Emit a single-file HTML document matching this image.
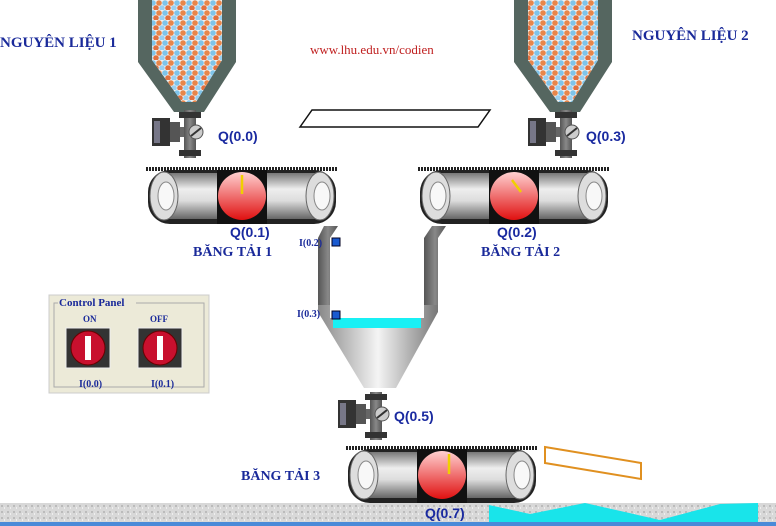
<!DOCTYPE html>
<html><head><meta charset="utf-8"><style>
html,body{margin:0;padding:0;background:#fff;}
svg{display:block}
text{font-family:"Liberation Sans",sans-serif;}
.ser{font-family:"Liberation Serif",serif;font-weight:bold;fill:#1a2a9a}
.url{font-family:"Liberation Serif",serif;fill:#c02020}
.q{font-family:"Liberation Sans",sans-serif;font-weight:bold;fill:#1a2aa0;font-size:14px}
</style></head><body>
<svg width="776" height="526" viewBox="0 0 776 526" xmlns="http://www.w3.org/2000/svg">
<defs>
<linearGradient id="cyl" x1="0" y1="0" x2="0" y2="1">
<stop offset="0" stop-color="#777"/><stop offset="0.35" stop-color="#eee"/><stop offset="0.6" stop-color="#ddd"/><stop offset="1" stop-color="#666"/></linearGradient>
<linearGradient id="red" x1="0" y1="0" x2="0" y2="1">
<stop offset="0" stop-color="#ffd0d0"/><stop offset="1" stop-color="#e01010"/></linearGradient>
<linearGradient id="fun" x1="0" y1="0" x2="1" y2="0">
<stop offset="0" stop-color="#888"/><stop offset="0.5" stop-color="#f4f4f4"/><stop offset="1" stop-color="#777"/></linearGradient>
<linearGradient id="pipe" x1="0" y1="0" x2="1" y2="0">
<stop offset="0" stop-color="#555"/><stop offset="0.5" stop-color="#888"/><stop offset="1" stop-color="#555"/></linearGradient>
<pattern id="balls" width="12" height="10" patternUnits="userSpaceOnUse">
<rect width="12" height="10" fill="#f0f0f0"/>
<circle cx="3" cy="3" r="2.8" fill="#e8864a"/><circle cx="9" cy="3" r="2.8" fill="#7fc4ea"/>
<circle cx="6" cy="8" r="2.8" fill="#9ad0f0"/><circle cx="0" cy="8" r="2.8" fill="#e07040"/><circle cx="12" cy="8" r="2.8" fill="#e07040"/></pattern>
<pattern id="grd" width="6" height="6" patternUnits="userSpaceOnUse">
<rect width="6" height="6" fill="#d8d8d8"/><rect x="1" y="1" width="2" height="2" fill="#bbb"/><rect x="4" y="3" width="1" height="2" fill="#eee"/></pattern>
<pattern id="teeth" width="3" height="3" patternUnits="userSpaceOnUse"><rect width="2" height="3" fill="#222"/></pattern>
<g id="conv">
<rect x="0" y="0" width="192" height="4" fill="url(#teeth)"/>
<rect x="2" y="3" width="188" height="54" rx="22" fill="#222"/>
<rect x="4" y="6" width="184" height="46" rx="20" fill="url(#cyl)"/>
<ellipse cx="18" cy="29" rx="14" ry="24" fill="#ddd" stroke="#666"/>
<ellipse cx="20" cy="29" rx="8" ry="14" fill="#f8f8f8" stroke="#888"/>
<ellipse cx="174" cy="29" rx="14" ry="24" fill="#ddd" stroke="#666"/>
<ellipse cx="176" cy="29" rx="8" ry="14" fill="#f8f8f8" stroke="#888"/>
<rect x="71" y="3" width="50" height="54" fill="#111"/>
<circle cx="96" cy="29" r="24" fill="url(#red)"/>
</g>
<g id="valve">
<rect x="0" y="8" width="18" height="28" fill="#333"/>
<rect x="2" y="11" width="6" height="22" fill="#778"/>
<rect x="18" y="12" width="10" height="20" fill="#555"/>
<rect x="28" y="17" width="14" height="10" fill="#666"/>
<rect x="32" y="0" width="12" height="48" fill="url(#pipe)"/>
<rect x="27" y="2" width="22" height="6" fill="#333"/>
<rect x="27" y="40" width="22" height="6" fill="#333"/>
<circle cx="44" cy="22" r="7" fill="#ccc" stroke="#555"/>
<line x1="39" y1="26" x2="49" y2="18" stroke="#333" stroke-width="2"/>
</g>
<g id="btn">
<rect x="0" y="0" width="44" height="40" fill="#333" stroke="#eee"/>
<circle cx="22" cy="20" r="17" fill="#c8102e" stroke="#600"/>
<rect x="19" y="8" width="6" height="24" fill="#fff"/>
</g>
</defs>

<rect x="0" y="503" width="776" height="21" fill="url(#grd)"/>
<path d="M489 524 L489 505 L530 514 L585 503 L660 520 L720 504 L758 503 L758 524Z" fill="#19e4ea"/>
<rect x="0" y="522" width="776" height="4" fill="#4a8ad8"/>

<path d="M138 0 L152 0 L152 60 L182 102 L196 102 L222 60 L222 0 L236 0 L236 62 L204 112 L174 112 L138 62Z" fill="#556660"/>
<path d="M152 0 L222 0 L222 60 L196 102 L182 102 L152 60Z" fill="url(#balls)"/>
<path d="M514 0 L528 0 L528 60 L558 102 L572 102 L598 60 L598 0 L612 0 L612 62 L580 112 L550 112 L514 62Z" fill="#556660"/>
<path d="M528 0 L598 0 L598 60 L572 102 L558 102 L528 60Z" fill="url(#balls)"/>

<use href="#valve" x="152" y="110"/>
<use href="#valve" x="528" y="110"/>
<text class="q" x="218" y="141">Q(0.0)</text>
<text class="q" x="586" y="141">Q(0.3)</text>

<text class="ser" x="0" y="47" font-size="15">NGUYÊN LIỆU 1</text>
<text class="ser" x="632" y="40" font-size="15">NGUYÊN LIỆU 2</text>
<text class="url" x="310" y="54" font-size="13">www.lhu.edu.vn/codien</text>
<path d="M300 127 L312 110 L490 110 L478 127Z" fill="#fff" stroke="#111" stroke-width="1.5"/>

<path d="M324 226 L338 226 L330 238 L330 306 L318 306 L318 238Z" fill="url(#pipe)"/>
<path d="M432 226 L446 226 L438 238 L438 306 L424 306 L424 238Z" fill="url(#pipe)"/>
<path d="M318 305 L438 305 L438 312 L396 388 L364 388 L318 312Z" fill="url(#fun)"/>
<rect x="330" y="238" width="94" height="80" fill="#fff"/>
<rect x="333" y="318" width="88" height="10" fill="#19f0f4"/>
<rect x="332" y="238" width="8" height="8" fill="#1a5ad0" stroke="#002"/>
<rect x="332" y="311" width="8" height="8" fill="#1a5ad0" stroke="#002"/>
<text class="ser" x="299" y="246" font-size="10">I(0.2)</text>
<text class="ser" x="297" y="317" font-size="10">I(0.3)</text>
<use href="#valve" x="338" y="392"/>
<text class="q" x="394" y="421">Q(0.5)</text>

<use href="#conv" x="146" y="167"/>
<line x1="242" y1="175" x2="242" y2="194" stroke="#f0d000" stroke-width="2.5"/>
<use href="#conv" x="418" y="167"/>
<line x1="512" y1="180" x2="521" y2="192" stroke="#f0d000" stroke-width="2.5"/>
<use href="#conv" x="346" y="446"/>
<line x1="449" y1="454" x2="449" y2="474" stroke="#f0d000" stroke-width="2.5"/>

<text class="q" x="230" y="237">Q(0.1)</text>
<text class="q" x="497" y="237">Q(0.2)</text>
<text class="q" x="425" y="518">Q(0.7)</text>
<text class="ser" x="193" y="256" font-size="14">BĂNG TẢI 1</text>
<text class="ser" x="481" y="256" font-size="14">BĂNG TẢI 2</text>
<text class="ser" x="241" y="480" font-size="14">BĂNG TẢI 3</text>

<path d="M545 447 L641 463 L641 479 L545 463Z" fill="none" stroke="#e09020" stroke-width="2"/>

<rect x="49" y="295" width="160" height="98" fill="#ecead8" stroke="#ccc"/>
<rect x="54" y="303" width="150" height="84" fill="none" stroke="#aaa"/>
<rect x="58" y="296" width="78" height="12" fill="#ecead8"/>
<text class="ser" x="59" y="306" font-size="11">Control Panel</text>
<text class="ser" x="83" y="322" font-size="9">ON</text>
<text class="ser" x="150" y="322" font-size="9">OFF</text>
<use href="#btn" x="66" y="328"/>
<use href="#btn" x="138" y="328"/>
<text class="ser" x="79" y="387" font-size="10">I(0.0)</text>
<text class="ser" x="151" y="387" font-size="10">I(0.1)</text>
</svg>
</body></html>
